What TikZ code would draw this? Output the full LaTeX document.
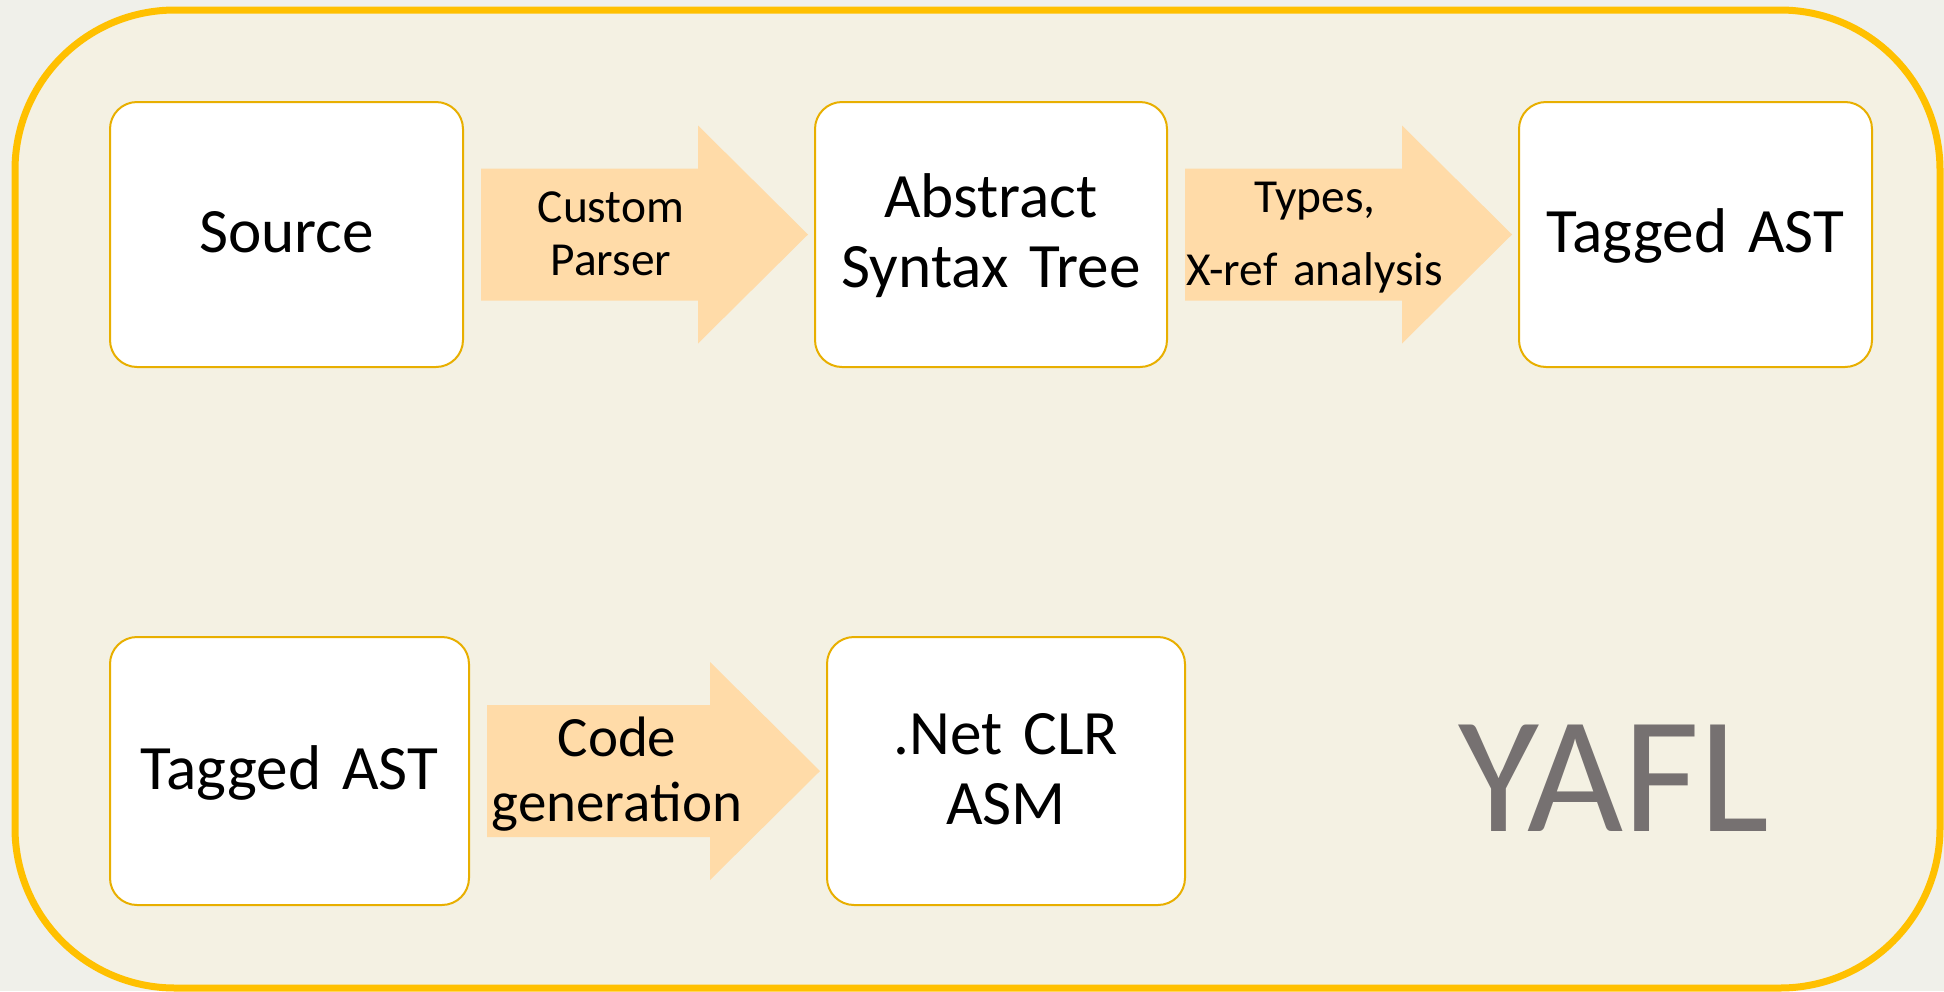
\documentclass[tikz,border=0pt]{standalone}
\usepackage{fontspec}
\setmainfont{Carlito}
\usetikzlibrary{calc}

\definecolor{pagebg}{HTML}{F0F0EA}
\definecolor{panelbg}{HTML}{F4F1E3}
\definecolor{panelline}{HTML}{FFC000}
\definecolor{boxline}{HTML}{E8AF00}
\definecolor{arrowfill}{HTML}{FFDBA8}
\definecolor{titlegray}{HTML}{767171}

\tikzset{
  stage/.style={draw=boxline, line width=1pt, fill=white, rounded corners=13.5pt,
    outer sep=0pt, inner sep=0pt, align=center, text width=170pt,
    font=\fontsize{31.6}{35}\selectfont, text height=18pt, text depth=0pt},
  arrowtext/.style={inner sep=0pt, align=center, text width=140pt},
  % broad block arrow from the east side of one stage to the west side of the next
  blockarrow/.style={fill=arrowfill, to path={
    let \p1=(\tikztostart.east), \p2=(\tikztotarget.west) in
    (\x1+9pt,\y1+33pt) -- (\x2-58.5pt,\y1+33pt) -- (\x2-58.5pt,\y1+54.5pt)
    -- (\x2-3.5pt,\y1) -- (\x2-58.5pt,\y1-54.5pt) -- (\x2-58.5pt,\y1-33pt)
    -- (\x1+9pt,\y1-33pt) -- cycle
    (\x1+74pt,\y1) -- (\x1+74pt,\y1) \tikztonodes}}
}

\begin{document}
\begin{tikzpicture}[x=0.5pt,y=-0.5pt]
  % page and panel
  \fill[pagebg] (0,0) rectangle (1944,991);
  \draw[panelline, line width=3.5pt, fill=panelbg, rounded corners=80pt]
    (15,10) rectangle (1940,988);

  % pipeline stages
  \node[stage, minimum width=176.5pt, minimum height=132.5pt] (src) at (286.5,234.5) {Source};
  \node[stage, minimum width=176pt, minimum height=132.5pt, text depth=35pt] (ast) at (991,234.5) {Abstract\\Syntax Tree};
  \node[stage, minimum width=176.5pt, minimum height=132.5pt] (tagA) at (1695.5,234.5) {Tagged AST};
  \node[stage, minimum width=179.5pt, minimum height=134pt] (tagB) at (289.5,771) {Tagged AST};
  \node[stage, minimum width=179pt, minimum height=134pt, text depth=35pt] (clr) at (1006,771) {.Net CLR\\ASM};

  % transformation arrows
  \path[blockarrow] (src) to node[arrowtext, font=\fontsize{23.7}{26.5}\selectfont,
    text height=14pt, text depth=26.5pt] {Custom\\Parser} (ast);
  \path[blockarrow] (ast) to node[arrowtext, font=\fontsize{23.7}{36.5}\selectfont,
    text height=14pt, text depth=36.5pt] {Types,\\X-ref analysis} (tagA);
  \path[blockarrow] (tagB) to node[arrowtext, font=\fontsize{28.5}{32.5}\selectfont,
    text height=17.5pt, text depth=32.5pt] {Code\\generation} (clr);

  % title
  \node[font=\fontsize{83}{90}\selectfont, text=titlegray, anchor=base, inner sep=0pt]
    (yafl) at (1614,831) {YAFL};
\end{tikzpicture}
\end{document}
